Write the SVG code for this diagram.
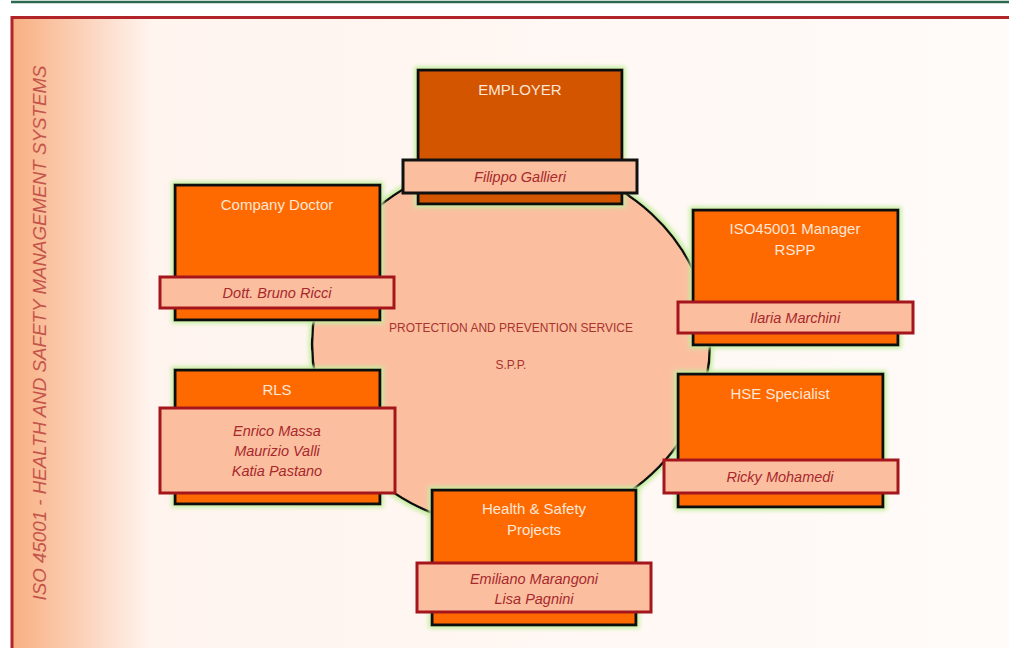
<svg xmlns="http://www.w3.org/2000/svg" width="1009" height="648" viewBox="0 0 1009 648">
<defs>
<linearGradient id="bg" x1="11" y1="0" x2="1009" y2="0" gradientUnits="userSpaceOnUse">
<stop offset="0" stop-color="#f8ae80"/>
<stop offset="0.04" stop-color="#fac2a0"/>
<stop offset="0.1" stop-color="#fde0d0"/>
<stop offset="0.14" stop-color="#fff4ee"/>
<stop offset="1" stop-color="#fffbf9"/>
</linearGradient>
<filter id="glow" x="-10%" y="-10%" width="120%" height="120%">
<feMorphology in="SourceAlpha" operator="dilate" radius="2" result="d"/>
<feGaussianBlur in="d" stdDeviation="2" result="b"/>
<feFlood flood-color="#c4eea0"/>
<feComposite in2="b" operator="in" result="g"/>
<feMerge><feMergeNode in="g"/><feMergeNode in="SourceGraphic"/></feMerge>
</filter>
<style>
.box{fill:#ff6a00;stroke:#111;stroke-width:3;filter:url(#glow)}
.boxd{fill:#d35400;stroke:#111;stroke-width:3;filter:url(#glow)}
.name{fill:#fbbfa0;stroke:#a5161c;stroke-width:3}
.namek{fill:#fbbfa0;stroke:#111;stroke-width:3}
.t{font-family:"Liberation Sans",Arial,sans-serif;font-size:15px;fill:#fde6d6;text-anchor:middle}
.n{font-family:"Liberation Sans",Arial,sans-serif;font-size:14.5px;font-style:italic;fill:#a8282c;text-anchor:middle}
.c{font-family:"Liberation Sans",Arial,sans-serif;font-size:12px;fill:#a8342e;text-anchor:middle}
</style>
</defs>
<line x1="11" y1="2" x2="1009" y2="2" stroke="#2c6a4f" stroke-width="2.5"/>
<rect x="12" y="17.5" width="1010" height="640" fill="url(#bg)" stroke="#b0242a" stroke-width="3"/>
<text x="0" y="0" transform="translate(46,333) rotate(-90)" font-family="'Liberation Sans',Arial,sans-serif" font-size="18" font-style="italic" fill="#c4554a" text-anchor="middle" textLength="535" lengthAdjust="spacingAndGlyphs">ISO 45001 - HEALTH AND SAFETY MANAGEMENT SYSTEMS</text>
<g id="connectors"></g>
<g id="spp">
<ellipse cx="511" cy="344" rx="199" ry="184" fill="#fbbfa0" stroke="#111" stroke-width="2.5" filter="url(#glow)"/>
<text class="c" x="511" y="332">PROTECTION AND PREVENTION SERVICE</text>
<text class="c" x="511" y="369">S.P.P.</text>
</g>
<g id="employer">
<rect class="boxd" x="418" y="70" width="204" height="134"/>
<text class="t" x="520" y="95">EMPLOYER</text>
<rect class="namek" x="403" y="160" width="234" height="33"/>
<text class="n" x="520" y="182">Filippo Gallieri</text>
</g>
<g id="company-doctor">
<rect class="box" x="175" y="185" width="205" height="135"/>
<text class="t" x="277" y="210">Company Doctor</text>
<rect class="name" x="160" y="277" width="234" height="31"/>
<text class="n" x="277" y="298">Dott. Bruno Ricci</text>
</g>
<g id="iso-manager">
<rect class="box" x="693" y="210" width="205" height="135"/>
<text class="t" x="795" y="234">ISO45001 Manager</text>
<text class="t" x="795" y="255">RSPP</text>
<rect class="name" x="678" y="302" width="235" height="31"/>
<text class="n" x="795" y="323">Ilaria Marchini</text>
</g>
<g id="rls">
<rect class="box" x="175" y="370" width="205" height="134"/>
<text class="t" x="277" y="395">RLS</text>
<rect class="name" x="160" y="408" width="235" height="85"/>
<text class="n" x="277" y="436">Enrico Massa</text>
<text class="n" x="277" y="456">Maurizio Valli</text>
<text class="n" x="277" y="476">Katia Pastano</text>
</g>
<g id="hse-specialist">
<rect class="box" x="678" y="374" width="205" height="133"/>
<text class="t" x="780" y="399">HSE Specialist</text>
<rect class="name" x="664" y="460" width="234" height="33"/>
<text class="n" x="780" y="482">Ricky Mohamedi</text>
</g>
<g id="hs-projects">
<rect class="box" x="432" y="490" width="204" height="135"/>
<text class="t" x="534" y="514">Health &amp; Safety</text>
<text class="t" x="534" y="535">Projects</text>
<rect class="name" x="417" y="563" width="234" height="49"/>
<text class="n" x="534" y="584">Emiliano Marangoni</text>
<text class="n" x="534" y="604">Lisa Pagnini</text>
</g>
</svg>
